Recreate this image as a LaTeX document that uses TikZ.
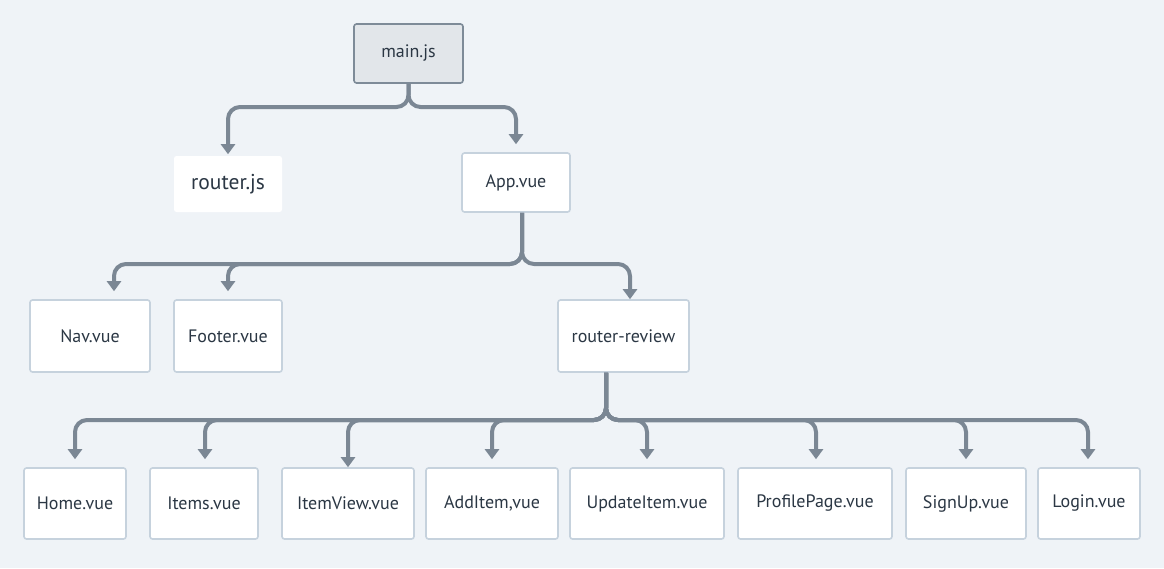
\documentclass[tikz,border=0pt]{standalone}
\usepackage{fontspec}
\setmainfont{PT Sans}
\usetikzlibrary{arrows.meta}
\definecolor{canvas}{HTML}{EFF3F7}
\definecolor{boxline}{HTML}{C6D2DD}
\definecolor{wire}{HTML}{7B8794}
\definecolor{ink}{HTML}{2B3744}
\definecolor{rootfill}{HTML}{E2E6EA}
\definecolor{rootline}{HTML}{7E8B98}
\tikzset{
  file/.style={draw=boxline, line width=1.6pt, fill=white, rounded corners=2.5pt,
    text=ink, inner sep=0pt, font=\fontsize{18}{21}\selectfont},
  rootfile/.style={file, draw=rootline, fill=rootfill},
  plainfile/.style={file, draw=none, font=\fontsize{21.5}{25}\selectfont},
  link/.style={draw=wire, line width=4pt, rounded corners=12pt,
    -{Triangle[width=14pt,length=10pt]}, shorten >=8pt},
}
\begin{document}
\begin{tikzpicture}[x=1pt, y=-1pt]
    \fill [canvas] (0,0) rectangle (1164,568);
    \useasboundingbox (0,0) rectangle (1164,568);

    % boxes
    \node [rootfile, minimum width=109pt, minimum height=59pt] (main) at (408.5,53.5) {main.js};
    \node [plainfile, minimum width=108pt, minimum height=56pt] (router) at (228,184) {router.js};
    \node [file, minimum width=108pt, minimum height=59pt] (app) at (516,182.5) {App.vue};
    \node [file, minimum width=120pt, minimum height=72pt] (nav) at (90,336) {Nav.vue};
    \node [file, minimum width=108pt, minimum height=72pt] (footer) at (228,336) {Footer.vue};
    \node [file, minimum width=131pt, minimum height=72pt] (review) at (623.5,336) {router-review};
    \node [file, minimum width=102pt, minimum height=71pt] (home) at (75,503.5) {Home.vue};
    \node [file, minimum width=108pt, minimum height=71pt] (items) at (204,503.5) {Items.vue};
    \node [file, minimum width=132pt, minimum height=71pt] (itemview) at (348,503.5) {ItemView.vue};
    \node [file, minimum width=132pt, minimum height=71pt] (additem) at (492,503.5) {AddItem,vue};
    \node [file, minimum width=154pt, minimum height=71pt] (update) at (647,503.5) {UpdateItem.vue};
    \node [file, minimum width=154pt, minimum height=71pt] (profile) at (815,503.5) {ProfilePage.vue};
    \node [file, minimum width=120pt, minimum height=71pt] (signup) at (966,503.5) {SignUp.vue};
    \node [file, minimum width=102pt, minimum height=71pt] (login) at (1089,503.5) {Login.vue};

    % split points
    \coordinate (mainsplit) at (main.south |- 0,107);
    \coordinate (appout) at ([xshift=6pt]app.south);
    \coordinate (appsplit) at (appout |- 0,264);
    \coordinate (navin) at ([xshift=24pt]nav.north);
    \coordinate (reviewin) at ([xshift=6.5pt]review.north);
    \coordinate (reviewout) at ([xshift=-17.5pt]review.south);
    \coordinate (reviewsplit) at (reviewout |- 0,420);

    % connectors
    \draw [link, shorten >=1pt] (main.south) -- (mainsplit) -| (router.north);
    \draw [link] (main.south) -- (mainsplit) -| (app.north);
    \draw [link] (appout) -- (appsplit) -| (navin);
    \draw [link] (appout) -- (appsplit) -| (footer.north);
    \draw [link, shorten >=0pt] (appout) -- (appsplit) -| (reviewin);
    \draw [link] (reviewout) -- (reviewsplit) -| (home.north);
    \draw [link] (reviewout) -- (reviewsplit) -| ([xshift=1pt]items.north);
    \draw [link, shorten >=0pt] (reviewout) -- (reviewsplit) -| (itemview.north);
    \draw [link] (reviewout) -- (reviewsplit) -| (additem.north);
    \draw [link] (reviewout) -- (reviewsplit) -| (update.north);
    \draw [link] (reviewout) -- (reviewsplit) -| ([xshift=1pt]profile.north);
    \draw [link] (reviewout) -- (reviewsplit) -| (signup.north);
    \draw [link] (reviewout) -- (reviewsplit) -| ([xshift=-1pt]login.north);
\end{tikzpicture}
\end{document}
